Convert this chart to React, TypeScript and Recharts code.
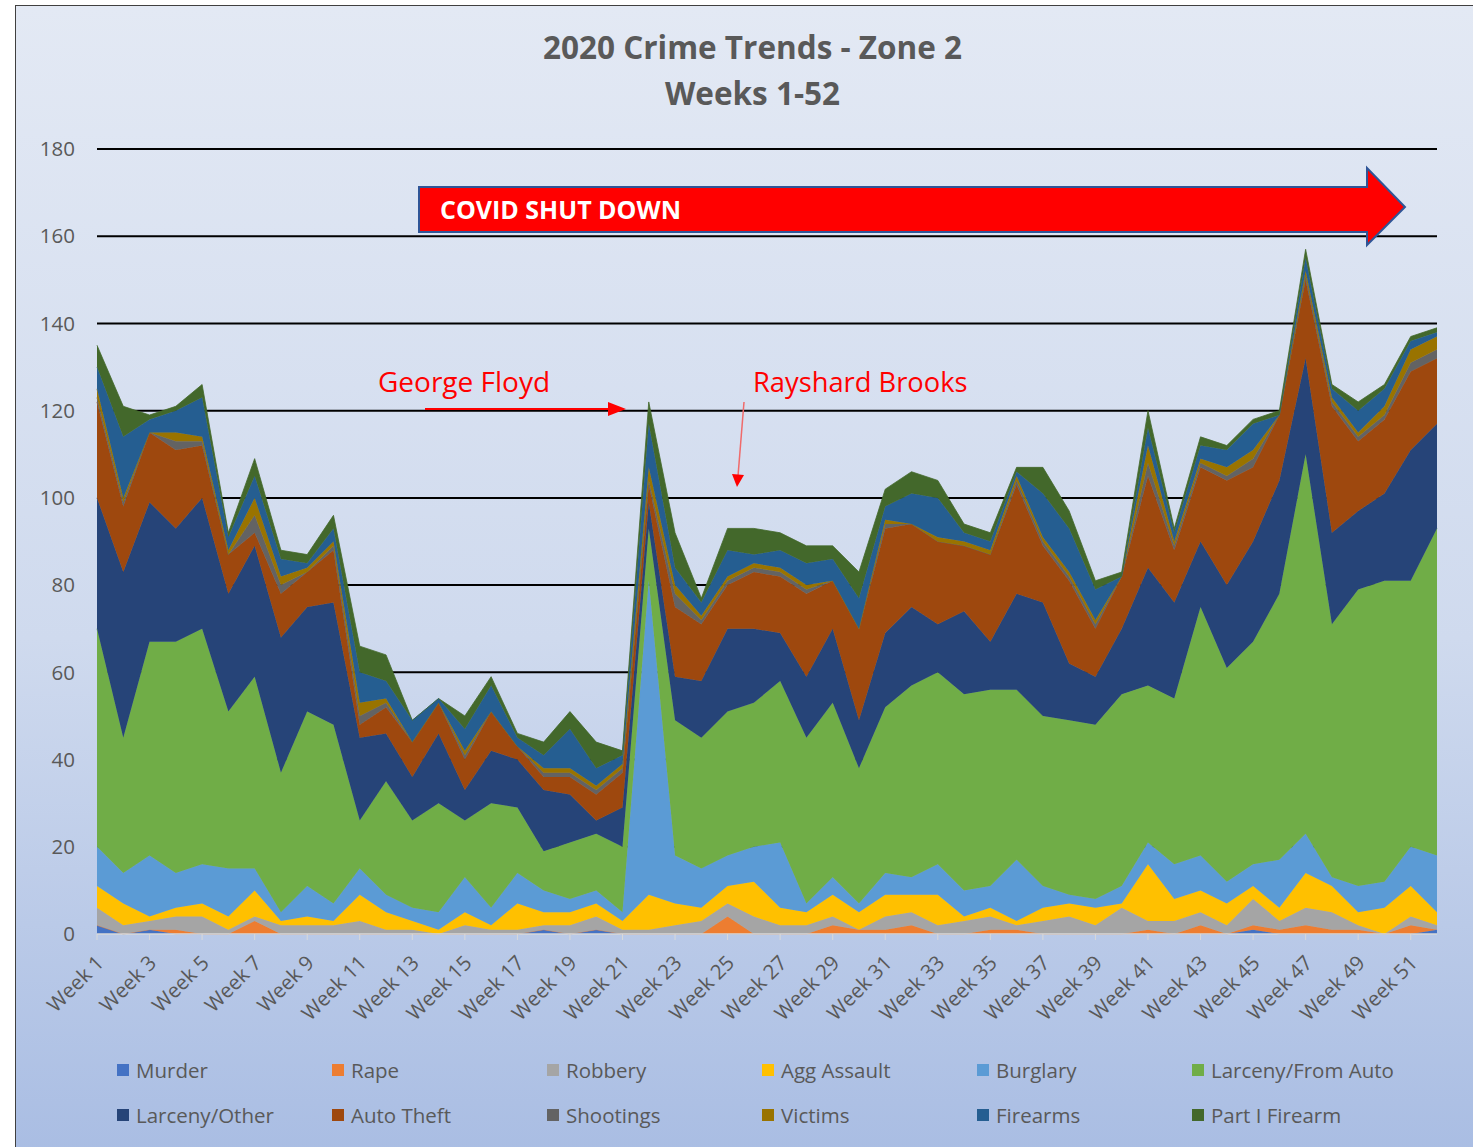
import React from "react";
import { Area, AreaChart, CartesianGrid, XAxis, YAxis } from "recharts";

const weeks = Array.from({ length: 52 }, (_, i) => `Week ${i + 1}`);

const murder = [2,0,1,0,0,0,0,0,0,0, 0,0,0,0,0,0,0,1,0,1, 0,0,0,0,0,0,0,0,0,0, 0,0,0,0,0,0,0,0,0,0, 0,0,0,0,1,0,0,0,0,0, 0,1];
const rape = [0,0,0,1,0,0,3,0,0,0, 0,0,0,0,0,0,0,0,0,0, 0,0,0,0,4,0,0,0,2,1, 1,2,0,0,1,1,0,0,0,0, 1,0,2,0,1,1,2,1,1,0, 2,0];
const robbery = [4,2,2,3,4,1,1,2,2,2, 3,1,1,0,2,1,1,1,2,3, 1,1,2,3,3,4,2,2,2,0, 3,3,2,3,3,1,3,4,2,6, 2,3,3,2,6,2,4,4,1,0, 2,1];
const aggAssault = [5,5,1,2,3,3,6,1,2,1, 6,4,2,1,3,1,6,3,3,3, 2,8,5,3,4,8,4,3,5,4, 5,4,7,1,2,1,3,3,4,1, 13,5,5,5,3,3,8,6,3,6, 7,3];
const burglary = [9,7,14,8,9,11,5,2,7,4, 6,4,3,4,8,4,7,5,3,3, 2,72,11,9,7,8,15,2,4,2, 5,4,7,6,5,14,5,2,2,4, 5,8,8,5,5,11,9,2,6,6, 9,13];
const larcenyAuto = [50,31,49,53,54,36,44,32,40,41, 11,26,20,25,13,24,15,9,13,13, 15,12,31,30,33,33,37,38,40,31, 38,44,44,45,45,39,39,40,40,44, 36,38,57,49,51,61,87,58,68,69, 61,75];
const larcenyOther = [30,38,32,26,30,27,30,31,24,28, 19,11,10,16,7,12,11,14,11,3, 9,6,10,13,19,17,11,14,17,11, 17,18,11,19,11,22,26,13,11,15, 27,22,15,19,23,26,22,21,18,20, 30,24];
const autoTheft = [22,15,16,18,12,9,3,10,8,12, 3,6,8,7,7,9,3,3,4,6, 8,4,16,13,10,13,13,19,11,21, 24,19,19,15,20,25,13,19,11,12, 21,12,17,24,17,15,18,29,16,17, 18,15];
const shootings = [1,1,0,2,1,0,4,2,0,1, 2,1,0,0,1,0,0,1,1,1, 1,1,3,1,1,1,1,1,0,0, 1,0,0,0,0,1,1,1,1,0, 3,1,1,1,2,0,1,1,1,1, 2,2];
const victims = [2,1,0,2,1,1,4,2,1,1, 3,1,0,0,1,0,0,1,1,1, 1,3,2,1,1,1,1,1,0,0, 1,0,1,1,1,1,1,1,1,0, 4,1,1,2,2,0,1,1,1,2, 3,3];
const firearms = [5,14,3,5,9,3,5,4,1,3, 7,4,5,1,5,6,2,3,9,4, 2,10,4,3,6,2,4,5,5,7, 3,7,9,2,2,1,10,10,7,0, 4,2,3,4,6,0,3,2,5,4, 2,1];
const partIFirearm = [5,7,1,1,3,1,4,2,2,3, 6,6,0,0,3,2,1,3,4,6, 1,5,8,1,5,6,4,4,3,6, 4,5,4,2,2,1,6,4,2,1, 4,1,2,1,1,1,2,1,2,1, 1,1];

const yTicks = [0, 20, 40, 60, 80, 100, 120, 140, 160, 180];
const gridValues = [20, 40, 60, 80, 100, 120, 140, 160, 180];

const series = [
  { key: "murder", name: "Murder", color: "#4472C4", values: murder },
  { key: "rape", name: "Rape", color: "#ED7D31", values: rape },
  { key: "robbery", name: "Robbery", color: "#A5A5A5", values: robbery },
  { key: "agg", name: "Agg Assault", color: "#FFC000", values: aggAssault },
  { key: "burglary", name: "Burglary", color: "#5B9BD5", values: burglary },
  { key: "lfa", name: "Larceny/From Auto", color: "#70AD47", values: larcenyAuto },
  { key: "lo", name: "Larceny/Other", color: "#264478", values: larcenyOther },
  { key: "at", name: "Auto Theft", color: "#9E480E", values: autoTheft },
  { key: "shoot", name: "Shootings", color: "#636363", values: shootings },
  { key: "victims", name: "Victims", color: "#997300", values: victims },
  { key: "firearms", name: "Firearms", color: "#255E91", values: firearms },
  { key: "part1", name: "Part I Firearm", color: "#43682B", values: partIFirearm },
];

const data = weeks.map((w, i) => {
  const row: Record<string, string | number> = { week: w };
  series.forEach((s) => (row[s.key] = s.values[i]));
  return row;
});

// plot box, used for the soft shadow under each gridline
const plotTop = 149;
const plotBottom = 934;
const gridY = (v: number) => plotBottom - (v / 180) * (plotBottom - plotTop);

const WeekTick = ({ x, y, payload }: any) => (
  <text
    transform={`translate(${x + 3},${y + 17}) rotate(-45)`}
    textAnchor="end"
    dy="0.35em"
    fontSize={20.5}
    fill="#595959"
  >
    {payload.value}
  </text>
);

const legendCols = [117, 332, 547, 762, 977, 1192];

export default function App() {
  return (
    <div
      style={{
        position: "absolute",
        left: 0,
        top: 0,
        width: 1473,
        height: 1147,
        overflow: "hidden",
        fontFamily: "'Open Sans', sans-serif",
        background: "#fff",
      }}
    >
      <div
        style={{
          position: "absolute",
          left: 15,
          top: 5,
          width: 1470,
          height: 1150,
          border: "1.5px solid #404040",
          background: "linear-gradient(#e3e9f4 0%, #cfdaee 55%, #a9bde3 100%)",
        }}
      />
      <svg
        width={1473}
        height={1147}
        style={{ position: "absolute", left: 0, top: 0 }}
      >
        <defs>
          <filter id="gridShadow" x="-5%" y="-200%" width="110%" height="500%">
            <feGaussianBlur stdDeviation="3" />
          </filter>
        </defs>
        {gridValues.map((v) => (
          <line
            key={v}
            x1={97}
            x2={1437}
            y1={gridY(v) + 7}
            y2={gridY(v) + 7}
            stroke="rgba(110,120,150,0.35)"
            strokeWidth={5}
            filter="url(#gridShadow)"
          />
        ))}
      </svg>
      <div
        style={{
          position: "absolute",
          left: 0,
          width: 1505,
          top: 24,
          textAlign: "center",
          fontWeight: 700,
          fontSize: 31.5,
          lineHeight: "46px",
          color: "#595959",
        }}
      >
        2020 Crime Trends - Zone 2
        <br />
        Weeks 1-52
      </div>
      <div style={{ position: "absolute", left: 0, top: 0 }}>
        <AreaChart
          width={1473}
          height={1147}
          data={data}
          margin={{ top: 149, right: 36, bottom: 0, left: 0 }}
        >
          <CartesianGrid
            vertical={false}
            stroke="#000"
            strokeWidth={2}
            horizontalValues={gridValues}
          />
          <XAxis
            dataKey="week"
            interval={1}
            height={213}
            tick={<WeekTick />}
            axisLine={{ stroke: "#d9d9d9", strokeWidth: 1.5 }}
            tickLine={{ stroke: "#d9d9d9" }}
            tickSize={6}
          />
          <YAxis
            width={97}
            domain={[0, 180]}
            ticks={yTicks}
            axisLine={false}
            tickLine={false}
            tickSize={6}
            tickMargin={16}
            tick={{ fontSize: 20.5, fill: "#595959" }}
          />
          {series.map((s) => (
            <Area
              key={s.key}
              type="linear"
              dataKey={s.key}
              name={s.name}
              stackId="1"
              stroke={s.color}
              strokeWidth={0.8}
              fill={s.color}
              fillOpacity={1}
              isAnimationActive={false}
            />
          ))}
        </AreaChart>
      </div>
      <svg
        width={1473}
        height={1147}
        style={{ position: "absolute", left: 0, top: 0, pointerEvents: "none" }}
      >
        <polygon
          points="419,187 1367,187 1367,168 1405,207 1367,245 1367,232 419,232"
          fill="#FF0000"
          stroke="#2F5597"
          strokeWidth={2}
        />
        <text x={440} y={219} fill="#fff" fontWeight={700} fontSize={25}>
          COVID SHUT DOWN
        </text>
        <text x={378} y={392} fill="#FF0000" fontSize={28}>
          George Floyd
        </text>
        <line x1={425} y1={409} x2={610} y2={409} stroke="#FF0000" strokeWidth={2} />
        <polygon points="608,402 626,409 608,416" fill="#FF0000" />
        <text x={753} y={392} fill="#FF0000" fontSize={27.3}>
          Rayshard Brooks
        </text>
        <line x1={744} y1={402} x2={738} y2={476} stroke="#F06A6A" strokeWidth={1.5} />
        <polygon points="732,474 744,475 737,487" fill="#FF0000" />
      </svg>
      {series.map((s, i) => (
        <div
          key={s.key}
          style={{
            position: "absolute",
            left: legendCols[i % 6],
            top: i < 6 ? 1057 : 1102,
            height: 26,
            display: "flex",
            alignItems: "center",
            fontSize: 20.5,
            color: "#595959",
            whiteSpace: "nowrap",
          }}
        >
          <span
            style={{
              display: "inline-block",
              width: 12,
              height: 12,
              background: s.color,
              marginRight: 7,
            }}
          />
          {s.name}
        </div>
      ))}
    </div>
  );
}
